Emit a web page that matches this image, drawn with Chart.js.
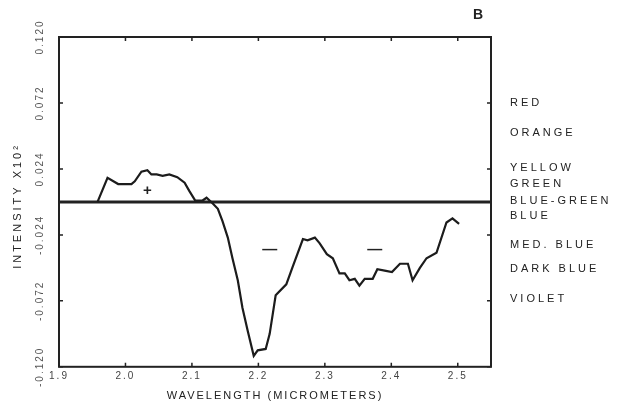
<!DOCTYPE html>
<html>
<head>
<meta charset="utf-8">
<script src="https://cdn.jsdelivr.net/npm/chart.js@4.4.1/dist/chart.umd.min.js"></script>
<style>
  html, body { margin: 0; padding: 0; background: #fff; }
  #wrap { width: 629px; height: 405px; }
</style>
</head>
<body>
<div id="wrap"><canvas id="spectrum"></canvas></div>
<script>
// difference spectrum, wavelength in micrometers
const wavelength = [1.958, 1.973, 1.989, 2.009, 2.014, 2.024, 2.033, 2.039, 2.047, 2.056, 2.066, 2.078, 2.089, 2.096, 2.105,
  2.116, 2.122, 2.131, 2.139, 2.146, 2.154, 2.161, 2.169, 2.176, 2.184, 2.193, 2.199, 2.211, 2.217, 2.226,
  2.242, 2.251, 2.267, 2.274, 2.285, 2.292, 2.303, 2.312, 2.322, 2.330, 2.337, 2.345, 2.352, 2.360, 2.372,
  2.379, 2.390, 2.401, 2.413, 2.425, 2.432, 2.443, 2.453, 2.468, 2.483, 2.492, 2.502];
const intensity = [0.000, 0.0175, 0.013, 0.013, 0.015, 0.022, 0.023, 0.020, 0.020, 0.019, 0.020, 0.018, 0.014, 0.008, 0.001,
  0.001, 0.003, -0.001, -0.005, -0.014, -0.026, -0.041, -0.057, -0.077, -0.094, -0.112, -0.108, -0.107, -0.096, -0.068,
  -0.060, -0.048, -0.027, -0.028, -0.026, -0.030, -0.038, -0.041, -0.052, -0.052, -0.057, -0.056, -0.061, -0.056, -0.056,
  -0.049, -0.050, -0.051, -0.045, -0.045, -0.057, -0.048, -0.041, -0.037, -0.015, -0.012, -0.016];

const xTicks = [1.9, 2.0, 2.1, 2.2, 2.3, 2.4, 2.5];
const yTicks = [0.120, 0.072, 0.024, -0.024, -0.072, -0.120];
const yTickLabels = ['0.120', '0.072', '0.024', '-0.024', '-0.072', '-0.120'];

// colour scale down the right side
const colourNames = ['RED', 'ORANGE', 'YELLOW', 'GREEN', 'BLUE-GREEN', 'BLUE', 'MED. BLUE', 'DARK BLUE', 'VIOLET'];
const colourLevels = [0.072, 0.050, 0.025, 0.013, 0.001, -0.010, -0.031, -0.049, -0.071];

// sign markers inside the plot
const signText = ['+', '\u2014', '\u2014'];
const signX = [2.033, 2.217, 2.375];
const signY = [0.008, -0.035, -0.035];

const FONT = '"Liberation Sans", Arial, sans-serif';
const INK = '#222';

const framePlugin = {
  id: 'frame',
  beforeLayout(chart) { chart.ctx.letterSpacing = '2px'; },
  beforeDraw(chart) { chart.ctx.letterSpacing = '2px'; },
  beforeDatasetsDraw(chart) {
    const ctx = chart.ctx;
    const a = chart.chartArea;
    const xs = chart.scales.x, ys = chart.scales.y;
    ctx.save();
    ctx.strokeStyle = INK;
    // zero line
    ctx.lineWidth = 3;
    const y0 = ys.getPixelForValue(0);
    ctx.beginPath();
    ctx.moveTo(a.left, y0);
    ctx.lineTo(a.right, y0);
    ctx.stroke();
    // frame
    ctx.lineWidth = 2;
    ctx.strokeRect(a.left, a.top, a.right - a.left, a.bottom - a.top);
    // inward ticks
    ctx.lineWidth = 1.5;
    ctx.beginPath();
    yTicks.forEach(v => {
      const y = ys.getPixelForValue(v);
      ctx.moveTo(a.left, y); ctx.lineTo(a.left + 4, y);
      ctx.moveTo(a.right, y); ctx.lineTo(a.right - 4, y);
    });
    xTicks.forEach(v => {
      const x = xs.getPixelForValue(v);
      ctx.moveTo(x, a.bottom); ctx.lineTo(x, a.bottom - 4);
      ctx.moveTo(x, a.top); ctx.lineTo(x, a.top + 4);
    });
    ctx.stroke();
    ctx.restore();
  },
  afterDraw(chart) {
    const ctx = chart.ctx;
    const xs = chart.scales.x, ys = chart.scales.y;
    ctx.save();
    ctx.letterSpacing = '2px';
    ctx.textBaseline = 'middle';

    // rotated y tick labels
    ctx.fillStyle = '#555';
    ctx.font = '10px ' + FONT;
    ctx.textAlign = 'center';
    yTicks.forEach((v, i) => {
      ctx.save();
      ctx.translate(40, ys.getPixelForValue(v));
      ctx.rotate(-Math.PI / 2);
      ctx.fillText(yTickLabels[i], 0, 0);
      ctx.restore();
    });

    // y axis title
    ctx.fillStyle = INK;
    ctx.font = '11px ' + FONT;
    ctx.letterSpacing = '3px';
    ctx.save();
    ctx.translate(18, 206);
    ctx.rotate(-Math.PI / 2);
    ctx.fillText('INTENSITY X10\u00b2', 0, 0);
    ctx.restore();

    // colour names
    ctx.font = '11px ' + FONT;
    ctx.textAlign = 'left';
    ctx.letterSpacing = '3px';
    colourNames.forEach((name, i) => {
      ctx.fillText(name, 510, ys.getPixelForValue(colourLevels[i]));
    });

    // + / - markers
    ctx.letterSpacing = '0px';
    ctx.textAlign = 'center';
    ctx.font = 'bold 15px ' + FONT;
    signText.forEach((s, i) => {
      ctx.fillText(s, xs.getPixelForValue(signX[i]), ys.getPixelForValue(signY[i]));
    });

    // panel letter
    ctx.font = 'bold 14px ' + FONT;
    ctx.fillText('B', 478, 15);
    ctx.restore();
  }
};

new Chart(document.getElementById('spectrum'), {
  type: 'line',
  data: {
    datasets: [{
      data: wavelength.map((w, i) => ({ x: w, y: intensity[i] })),
      borderColor: '#1c1c1c',
      borderWidth: 2.2,
      pointRadius: 0,
      tension: 0
    }]
  },
  options: {
    responsive: true,
    maintainAspectRatio: false,
    animation: false,
    layout: { padding: { left: 59, top: 37, right: 138, bottom: 2 } },
    plugins: { legend: { display: false }, tooltip: { enabled: false } },
    scales: {
      x: {
        type: 'linear',
        min: 1.9,
        max: 2.55,
        afterBuildTicks: s => { s.ticks = xTicks.map(v => ({ value: v })); },
        grid: { display: false, drawTicks: false },
        border: { display: false },
        ticks: {
          color: '#444',
          font: { size: 10, family: FONT },
          padding: 3,
          maxRotation: 0,
          autoSkip: false,
          callback: v => v.toFixed(1)
        },
        title: {
          display: true,
          text: 'WAVELENGTH (MICROMETERS)',
          color: INK,
          font: { size: 11, family: FONT },
          padding: { top: 5, bottom: 0 }
        }
      },
      y: { type: 'linear', min: -0.12, max: 0.12, display: false }
    }
  },
  plugins: [framePlugin]
});
</script>
</body>
</html>
